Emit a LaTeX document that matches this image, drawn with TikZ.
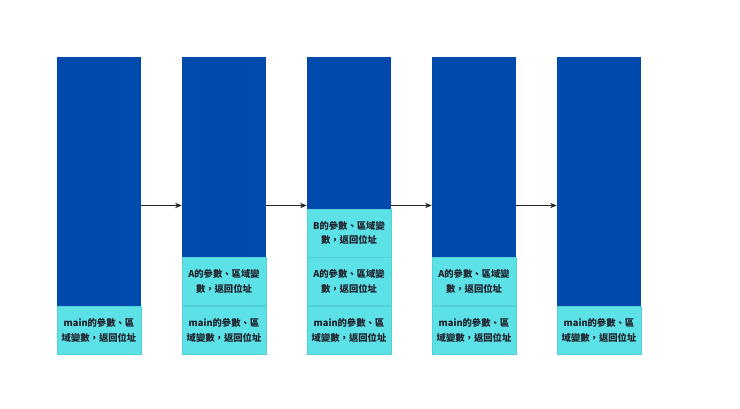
\documentclass[tikz,border=0pt]{standalone}
\usepackage{fontspec}
\usepackage{tikz}
\usetikzlibrary{positioning,arrows.meta}
\newfontfamily\cjkfont{Noto Sans CJK TC}
\definecolor{stackblue}{HTML}{004AAD}
\definecolor{framecyan}{HTML}{5CE1E6}
\definecolor{framerule}{HTML}{52D2D8}
\definecolor{frametext}{HTML}{1F1F2A}
\tikzset{stackcol/.style={shape=rectangle,fill=stackblue,minimum width=63pt,minimum height=222.75pt,inner sep=0pt},
	framebox/.style={shape=rectangle,fill=framecyan,draw=framerule,line width=.4pt,minimum width=63pt,minimum height=36pt,inner sep=0pt,text width=60pt,align=center,text=frametext,font=\cjkfont\bfseries\fontsize{7pt}{11.2pt}\selectfont},
	callarrow/.style={-{Stealth[length=5pt,width=4pt]},line width=.9pt,draw=black!85}}

\begin{document}
\begin{tikzpicture}[x=0.75pt,y=0.75pt]
		\useasboundingbox (0,0) rectangle (740,409);
		%
		\node[stackcol] (col1) at (99,203.5) {};
		\node[stackcol] (col2) at (224,203.5) {};
		\node[stackcol] (col3) at (349,203.5) {};
		\node[stackcol] (col4) at (474,203.5) {};
		\node[stackcol] (col5) at (599,203.5) {};
		%
		\node[framebox,anchor=south] (main1) at (col1.south) {main的參數、區\\域變數，返回位址};
		\node[framebox,anchor=south] (main2) at (col2.south) {main的參數、區\\域變數，返回位址};
		\node[framebox,above=0pt of main2] (fa2) {A的參數、區域變\\數，返回位址};
		\node[framebox,anchor=south] (main3) at (col3.south) {main的參數、區\\域變數，返回位址};
		\node[framebox,above=0pt of main3] (fa3) {A的參數、區域變\\數，返回位址};
		\node[framebox,above=0pt of fa3] (fb3) {B的參數、區域變\\數，返回位址};
		\node[framebox,anchor=south] (main4) at (col4.south) {main的參數、區\\域變數，返回位址};
		\node[framebox,above=0pt of main4] (fa4) {A的參數、區域變\\數，返回位址};
		\node[framebox,anchor=south] (main5) at (col5.south) {main的參數、區\\域變數，返回位址};
		%
		\draw[callarrow] (col1.east) -- (col2.west);
		\draw[callarrow] (col2.east) -- (col3.west);
		\draw[callarrow] (col3.east) -- (col4.west);
		\draw[callarrow] (col4.east) -- (col5.west);
	\end{tikzpicture}
\end{document}
